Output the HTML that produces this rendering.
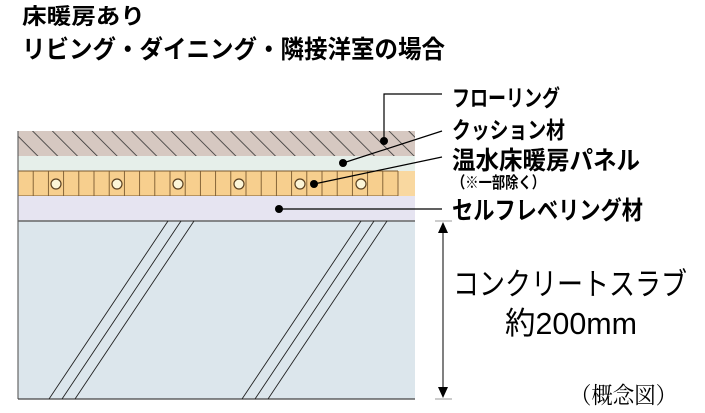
<!DOCTYPE html>
<html><head><meta charset="utf-8"><style>
body{margin:0;background:#fff;}
svg text{font-family:"Liberation Sans","Noto Sans CJK JP",sans-serif;}
</style></head><body>
<svg width="705" height="408" xmlns="http://www.w3.org/2000/svg">
<defs>
<pattern id="h" patternUnits="userSpaceOnUse" width="14" height="14" patternTransform="rotate(-45)">
<rect width="14" height="14" fill="#d6c8c1"/>
<line x1="0" y1="0" x2="0" y2="14" stroke="#333" stroke-width="1.6"/>
</pattern>
</defs>
<text x="22" y="24" font-size="22" font-weight="bold" textLength="123" lengthAdjust="spacingAndGlyphs">床暖房あり</text>
<text x="22" y="58" font-size="25" font-weight="bold" textLength="423" lengthAdjust="spacingAndGlyphs">リビング・ダイニング・隣接洋室の場合</text>

<rect x="18" y="131" width="397" height="25" fill="url(#h)"/>
<rect x="18" y="156" width="397" height="15" fill="#e6efea"/>
<rect x="18" y="171" width="397" height="25" fill="#f7cf8e"/>
<rect x="398" y="171" width="17" height="25" fill="#f9d8a0"/>
<g stroke="#7a5a30" stroke-width="0.9">
<line x1="18" y1="171" x2="398" y2="171"/><line x1="18" y1="196" x2="398" y2="196"/>
<line x1="33.2" y1="171" x2="33.2" y2="196"/><line x1="48.4" y1="171" x2="48.4" y2="196"/><line x1="63.6" y1="171" x2="63.6" y2="196"/><line x1="78.8" y1="171" x2="78.8" y2="196"/><line x1="94" y1="171" x2="94" y2="196"/><line x1="109.2" y1="171" x2="109.2" y2="196"/><line x1="124.4" y1="171" x2="124.4" y2="196"/><line x1="139.6" y1="171" x2="139.6" y2="196"/><line x1="154.8" y1="171" x2="154.8" y2="196"/><line x1="170" y1="171" x2="170" y2="196"/><line x1="185.2" y1="171" x2="185.2" y2="196"/><line x1="200.4" y1="171" x2="200.4" y2="196"/><line x1="215.6" y1="171" x2="215.6" y2="196"/><line x1="230.8" y1="171" x2="230.8" y2="196"/><line x1="246" y1="171" x2="246" y2="196"/><line x1="261.2" y1="171" x2="261.2" y2="196"/><line x1="276.4" y1="171" x2="276.4" y2="196"/><line x1="291.6" y1="171" x2="291.6" y2="196"/><line x1="306.8" y1="171" x2="306.8" y2="196"/><line x1="322" y1="171" x2="322" y2="196"/><line x1="337.2" y1="171" x2="337.2" y2="196"/><line x1="352.4" y1="171" x2="352.4" y2="196"/><line x1="367.6" y1="171" x2="367.6" y2="196"/><line x1="382.8" y1="171" x2="382.8" y2="196"/><line x1="398" y1="171" x2="398" y2="196"/>
</g>
<g fill="#fbf5d8" stroke="#5a4020" stroke-width="1.2">
<circle cx="56" cy="184" r="5"/><circle cx="117" cy="184" r="5"/><circle cx="178" cy="184" r="5"/><circle cx="239" cy="184" r="5"/><circle cx="300" cy="184" r="5"/><circle cx="361" cy="184" r="5"/>
</g>
<rect x="18" y="196" width="397" height="25" fill="#e6e4f1"/>
<rect x="18" y="221" width="397" height="178" fill="#dce6ec"/>
<line x1="18" y1="221" x2="415" y2="221" stroke="#666" stroke-width="1.5"/>
<line x1="18" y1="131" x2="18" y2="399" stroke="#666" stroke-width="1.2"/>
<line x1="18" y1="399" x2="415" y2="399" stroke="#444" stroke-width="1.2"/>
<g stroke="#222" stroke-width="0.9">
<line x1="168" y1="221" x2="49" y2="399"/><line x1="181" y1="221" x2="62" y2="399"/><line x1="194" y1="221" x2="75" y2="399"/>
<line x1="361" y1="221" x2="242" y2="399"/><line x1="374" y1="221" x2="255" y2="399"/><line x1="387" y1="221" x2="268" y2="399"/>
</g>

<g fill="#000"><circle cx="384" cy="141" r="4"/><circle cx="343" cy="163" r="4"/><circle cx="314" cy="184" r="4"/><circle cx="279" cy="209" r="4"/></g>
<g stroke="#000" stroke-width="1.2" fill="none">
<polyline points="384,141 384,94 442,94"/>
<line x1="343" y1="163" x2="442" y2="131"/>
<line x1="314" y1="184" x2="442" y2="157"/>
<line x1="279" y1="209" x2="442" y2="209"/>
</g>
<text x="452" y="106" font-size="23" font-weight="bold" textLength="108" lengthAdjust="spacingAndGlyphs">フローリング</text>
<text x="452" y="138" font-size="23" font-weight="bold" textLength="113" lengthAdjust="spacingAndGlyphs">クッション材</text>
<text x="452" y="169" font-size="25" font-weight="bold" textLength="188" lengthAdjust="spacingAndGlyphs">温水床暖房パネル</text>
<text x="452" y="188" font-size="16" font-weight="bold" textLength="93" lengthAdjust="spacingAndGlyphs">（※一部除く）</text>
<text x="452" y="219" font-size="25" font-weight="bold" textLength="191" lengthAdjust="spacingAndGlyphs">セルフレベリング材</text>

<g stroke="#000" stroke-width="1">
<line x1="435" y1="221" x2="452" y2="221" stroke="#999"/>
<line x1="435" y1="399" x2="452" y2="399" stroke="#999"/>
<line x1="443" y1="228" x2="443" y2="392"/>
</g>
<polygon points="443,222 438,233 448,233" fill="#000"/>
<polygon points="443,398 438,387 448,387" fill="#000"/>
<text x="453" y="295" font-size="31" textLength="234" lengthAdjust="spacingAndGlyphs">コンクリートスラブ</text>
<text x="505" y="334" font-size="31" textLength="132" lengthAdjust="spacingAndGlyphs">約200mm</text>
<text x="570" y="403" font-size="23" style="font-family:'Liberation Serif','Noto Serif CJK JP',serif" textLength="107" lengthAdjust="spacingAndGlyphs">（概念図）</text>
</svg>
</body></html>
